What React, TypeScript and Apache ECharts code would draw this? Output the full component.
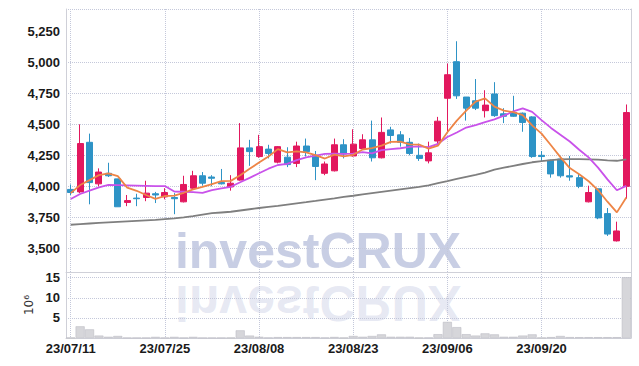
import React, { useEffect, useRef } from 'react';
import * as echarts from 'echarts';

const dates = [
  '23/07/11', '23/07/12', '23/07/13', '23/07/14', '23/07/17', '23/07/18', '23/07/19', '23/07/20', '23/07/21', '23/07/24',
  '23/07/25', '23/07/26', '23/07/27', '23/07/28', '23/07/31', '23/08/01', '23/08/02', '23/08/03', '23/08/04', '23/08/07',
  '23/08/08', '23/08/09', '23/08/10', '23/08/11', '23/08/14', '23/08/16', '23/08/17', '23/08/18', '23/08/21', '23/08/22',
  '23/08/23', '23/08/24', '23/08/25', '23/08/28', '23/08/29', '23/08/30', '23/08/31', '23/09/01', '23/09/04', '23/09/05',
  '23/09/06', '23/09/07', '23/09/08', '23/09/11', '23/09/12', '23/09/13', '23/09/14', '23/09/15', '23/09/18', '23/09/19',
  '23/09/20', '23/09/21', '23/09/22', '23/09/25', '23/09/26', '23/09/27', '23/10/04', '23/10/05', '23/10/06', '23/10/10',
];

const opens = [
  3975, 3955, 4355, 4020, 4105, 4060, 3870, 3905, 3910, 3940,
  3915, 3910, 3875, 3985, 4085, 4075, 4030, 3995, 4050, 4310,
  4240, 4300, 4195, 4235, 4185, 4325, 4250, 4105, 4125, 4335,
  4245, 4305, 4375, 4230, 4455, 4415, 4355, 4250, 4205, 4365,
  4710, 5005, 4720, 4690, 4610, 4745, 4585, 4595, 4590, 4560,
  4250, 4210, 4220, 4085, 4070, 3875, 3980, 3780, 3560, 4000,
];
const closes = [
  3950, 4345, 4030, 4115, 4085, 3835, 3885, 3900, 3945, 3930,
  3950, 3900, 4015, 4085, 4025, 4065, 4020, 4025, 4310, 4280,
  4320, 4265, 4320, 4175, 4325, 4280, 4160, 4180, 4335, 4260,
  4340, 4375, 4230, 4435, 4410, 4355, 4265, 4225, 4270, 4525,
  4900, 4730, 4630, 4630, 4655, 4570, 4565, 4565, 4515, 4240,
  4240, 4100, 4085, 4075, 4000, 3950, 3745, 3615, 3640, 4595,
];
const lows = [
  3930, 3945, 3855, 4000, 4075, 3835, 3840, 3840, 3880, 3865,
  3895, 3775, 3870, 3975, 4005, 4000, 4015, 3965, 4045, 4165,
  4230, 4225, 4185, 4155, 4155, 4240, 4050, 4090, 4120, 4225,
  4240, 4300, 4200, 4225, 4345, 4320, 4250, 4205, 4185, 4340,
  4430, 4705, 4530, 4615, 4555, 4560, 4510, 4560, 4440, 4230,
  4200, 4070, 4070, 4045, 3985, 3870, 3735, 3600, 3555, 3900,
];
const highs = [
  4015, 4500, 4425, 4145, 4190, 4060, 3930, 3940, 4045, 3955,
  3985, 3945, 4085, 4125, 4115, 4090, 4140, 4090, 4510, 4375,
  4415, 4335, 4325, 4315, 4360, 4385, 4285, 4200, 4385, 4380,
  4460, 4420, 4530, 4555, 4480, 4445, 4390, 4345, 4360, 4560,
  4990, 5170, 4720, 4865, 4775, 4840, 4630, 4730, 4595, 4565,
  4285, 4215, 4245, 4245, 4105, 4005, 3980, 3825, 3715, 4660,
];

const volumes = [
  0.08, 2.9, 2.15, 0.6, 0.3, 0.5, 0.05, 0.05, 0.06, 0.28,
  0.06, 0.28, 0.07, 0.28, 0.05, 0.05, 0.06, 0.08, 1.9, 0.6,
  0.3, 0.1, 0.22, 0.22, 0.22, 0.22, 0.22, 0.1, 0.25, 0.08,
  0.5, 0.3, 0.5, 0.9, 0.3, 0.3, 0.3, 0.08, 0.1, 0.95,
  4.0, 2.7, 0.95, 0.6, 1.15, 0.9, 0.3, 0.3, 0.6, 0.9,
  0.08, 0.22, 0.5, 0.22, 0.2, 0.2, 0.2, 0.2, 0.2, 15.1,
];

const ma5 = [
  3945, 4010, 4050, 4090, 4105, 4082, 3990, 3964, 3930, 3899,
  3922, 3925, 3948, 3976, 3995, 4018, 4042, 4044, 4090, 4141,
  4192, 4241, 4300, 4273, 4282, 4274, 4252, 4224, 4255, 4242,
  4254, 4297, 4308, 4328, 4358, 4360, 4338, 4337, 4304, 4328,
  4436, 4530, 4611, 4683, 4709, 4643, 4610, 4598, 4574, 4491,
  4425, 4331, 4235, 4147, 4098, 4041, 3970, 3876, 3790, 3910,
];
const ma10 = [
  3898, 3938, 3965, 3992, 4012, 4010, 4008, 4006, 4004, 4002,
  4002, 3958, 3956, 3953, 3947, 3970, 3984, 3996, 4033, 4068,
  4105, 4142, 4172, 4181, 4211, 4233, 4247, 4262, 4264, 4262,
  4264, 4275, 4266, 4292, 4300, 4307, 4318, 4322, 4316, 4343,
  4398, 4434, 4474, 4493, 4518, 4540, 4570, 4604, 4629, 4600,
  4534, 4471, 4416, 4361, 4295, 4233, 4151, 4056, 3968, 4004,
];
const maLong = [
  3690, 3695, 3700, 3705, 3710, 3714, 3718, 3722, 3726, 3730,
  3736, 3742, 3750, 3760, 3772, 3783, 3789, 3795, 3805, 3815,
  3825, 3834, 3843, 3853, 3863, 3872, 3882, 3893, 3903, 3914,
  3924, 3935, 3945, 3955, 3965, 3975, 3985, 3995, 4008, 4025,
  4042, 4060, 4077, 4093, 4110, 4135, 4150, 4165, 4180, 4194,
  4204, 4212, 4218, 4220, 4220, 4218, 4215, 4210, 4206, 4218,
];

const priceMin = 3309;
const priceMax = 5430;
const volMax = 16.4;

const FONT = "'Liberation Sans', Arial, sans-serif";

export default function App() {
  const ref = useRef<HTMLDivElement>(null);
  useEffect(() => {
    document.body.style.margin = '0';
    const chart = echarts.init(ref.current!, null, { renderer: 'svg' });
    const kdata = dates.map((_, i) => [opens[i], closes[i], lows[i], highs[i]]);
    const dotted = '#c4c8da';
    // price split lines: extent ticks + 3,500 ... 5,250; hide the top boundary one
    const priceSplitColors = [dotted, dotted, dotted, dotted, dotted, dotted, dotted, dotted, 'rgba(0,0,0,0)'];
    const gridLine = { show: true, lineStyle: { type: 'dotted', color: dotted, width: 1 } };
    const vGridLine = { show: true, interval: 9, alignWithLabel: true, lineStyle: { type: 'dotted', color: dotted, width: 1 } };
    const axisLineStyle = { show: true, lineStyle: { color: '#cfd0d8', width: 1 } };
    const labelStyle = { color: '#1a1a1a', fontFamily: FONT, fontSize: 13, fontWeight: 600 };

    const option: any = {
      animation: false,
      backgroundColor: '#ffffff',
      graphic: [
        {
          type: 'text',
          x: 318,
          y: 276,
          z: 0,
          silent: true,
          style: {
            text: 'investCRUX',
            font: "bold 50px 'Liberation Sans', sans-serif",
            fill: 'rgba(160,170,208,0.58)',
            textAlign: 'center',
            textVerticalAlign: 'bottom',
          },
        },
        {
          type: 'text',
          x: 318,
          y: 278,
          scaleY: -1,
          z: 0,
          silent: true,
          style: {
            text: 'investCRUX',
            font: "bold 50px 'Liberation Sans', sans-serif",
            fill: 'rgba(160,170,208,0.26)',
            textAlign: 'center',
            textVerticalAlign: 'bottom',
          },
        },
      ],
      grid: [
        { left: 66, right: 8, top: 9, height: 263 },
        { left: 66, right: 8, top: 272, height: 66 },
      ],
      xAxis: [
        {
          type: 'category',
          gridIndex: 0,
          data: dates,
          boundaryGap: true,
          axisLine: axisLineStyle,
          axisTick: { show: false },
          axisLabel: { show: false },
          splitLine: vGridLine,
        },
        {
          type: 'category',
          gridIndex: 1,
          data: dates,
          boundaryGap: true,
          axisLine: axisLineStyle,
          axisTick: { show: false },
          axisLabel: { ...labelStyle, interval: 9, margin: 4 },
          splitLine: vGridLine,
        },
      ],
      yAxis: [
        {
          type: 'value',
          gridIndex: 0,
          min: priceMin,
          max: priceMax,
          minInterval: 250,
          maxInterval: 250,
          axisLine: axisLineStyle,
          axisTick: { show: false },
          axisLabel: {
            ...labelStyle,
            margin: 6,
            formatter: (v: number) => (v % 250 === 0 ? v.toLocaleString('en-US') : ''),
          },
          splitLine: { show: true, lineStyle: { type: 'dotted', color: priceSplitColors, width: 1 } },
        },
        {
          type: 'value',
          gridIndex: 1,
          min: 0,
          max: volMax,
          minInterval: 5,
          maxInterval: 5,
          name: '10⁶',
          nameLocation: 'middle',
          nameRotate: 90,
          nameGap: 28,
          nameTextStyle: { color: '#333', fontFamily: "'DejaVu Sans', sans-serif", fontSize: 12 },
          axisLine: axisLineStyle,
          axisTick: { show: false },
          axisLabel: {
            ...labelStyle,
            margin: 6,
            formatter: (v: number) => (v > 0 && v % 5 === 0 ? String(v) : ''),
          },
          splitLine: gridLine,
        },
        {
          type: 'value',
          gridIndex: 0,
          position: 'right',
          min: priceMin,
          max: priceMax,
          axisLine: axisLineStyle,
          axisTick: { show: false },
          axisLabel: { show: false },
          splitLine: { show: false },
        },
        {
          type: 'value',
          gridIndex: 1,
          position: 'right',
          min: 0,
          max: volMax,
          axisLine: axisLineStyle,
          axisTick: { show: false },
          axisLabel: { show: false },
          splitLine: { show: false },
        },
      ],
      series: [
        {
          type: 'candlestick',
          xAxisIndex: 0,
          yAxisIndex: 0,
          data: kdata,
          barWidth: 6.5,
          itemStyle: {
            color: '#e2185e',
            color0: '#2e93c6',
            borderColor: '#e2185e',
            borderColor0: '#2e93c6',
            borderWidth: 1,
          },
          z: 3,
        },
        {
          type: 'line',
          xAxisIndex: 0,
          yAxisIndex: 0,
          data: maLong,
          symbol: 'none',
          lineStyle: { color: '#7f7f7f', width: 1.8 },
          z: 4,
        },
        {
          type: 'line',
          xAxisIndex: 0,
          yAxisIndex: 0,
          data: ma10,
          symbol: 'none',
          lineStyle: { color: '#c952ea', width: 1.8 },
          z: 4,
        },
        {
          type: 'line',
          xAxisIndex: 0,
          yAxisIndex: 0,
          data: ma5,
          symbol: 'none',
          lineStyle: { color: '#ee8546', width: 1.8 },
          z: 4,
        },
        {
          type: 'bar',
          xAxisIndex: 1,
          yAxisIndex: 1,
          data: volumes,
          barCategoryGap: '4%',
          itemStyle: { color: '#d6d6da', borderColor: '#bcbcc4', borderWidth: 0.6 },
          z: 3,
        },
      ],
    };
    chart.setOption(option);
    return () => chart.dispose();
  }, []);
  return <div ref={ref} style={{ width: 639, height: 366 }} />;
}
